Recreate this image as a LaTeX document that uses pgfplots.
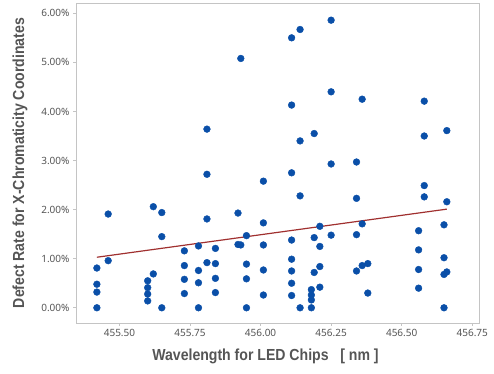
\documentclass[border=0pt]{standalone}
\usepackage{pgfplots}
\pgfplotsset{compat=1.18}
\usepackage{fontspec}
\setmainfont{Noto Sans}
\newfontfamily\labfont[FakeStretch=0.88]{Liberation Sans}
\definecolor{dotblue}{HTML}{0A4FA8}
\definecolor{trendred}{HTML}{A0302F}
\definecolor{framegray}{HTML}{C4C4C4}
\definecolor{txtgray}{HTML}{555555}
\begin{document}
\begin{tikzpicture}
\begin{axis}[
  scale only axis,
  width=403bp, height=320bp,
  xmin=455.346, xmax=456.774,
  ymin=-0.31, ymax=6.21,
  xtick={455.5,455.75,456,456.25,456.5,456.75},
  ytick={0,1,2,3,4,5,6},
  xticklabel style={/pgf/number format/fixed,/pgf/number format/fixed zerofill,/pgf/number format/precision=2,/pgf/number format/1000 sep={}},
  yticklabel={\pgfmathprintnumber[fixed,fixed zerofill,precision=2]{\tick}\%},
  /pgf/number format/assume math mode=true,
  tick label style={font=\fontsize{10bp}{12bp}\selectfont, text=txtgray},
  axis line style={framegray},
  tick style={framegray, line width=0.6pt},
  tick align=outside,
  major tick length=3bp,
  xtick pos=bottom, ytick pos=left,
  xlabel={\labfont\bfseries Wavelength for LED Chips\ \ \ [ nm ]},
  ylabel={\labfont\bfseries Defect Rate for X-Chromaticity Coordinates},
  label style={font=\fontsize{16bp}{18bp}\selectfont, text=txtgray},
  xlabel style={at={(0.5,0)}, anchor=center, yshift=-33bp, xshift=-12bp},
  ylabel style={at={(0,0.5)}, anchor=center, rotate=0, xshift=0bp},
  every axis y label/.append style={at={(rel axis cs:0,0.5)}, yshift=56bp},
  clip=false,
]
\addplot[only marks, mark=*, mark size=3.4bp, mark options={draw=dotblue, fill=dotblue}] coordinates {
(455.42,0.81) (455.42,0.48) (455.42,0.32) (455.42,0.00)
(455.46,1.91) (455.46,0.96)
(455.60,0.55) (455.60,0.41) (455.60,0.28) (455.60,0.14)
(455.62,2.06) (455.62,0.69)
(455.65,1.94) (455.65,1.45) (455.65,0.00)
(455.73,1.16) (455.73,0.86) (455.73,0.58) (455.73,0.29)
(455.78,1.26) (455.78,0.76) (455.78,0.51) (455.78,0.00)
(455.81,3.64) (455.81,2.72) (455.81,1.81) (455.81,0.92)
(455.84,1.21) (455.84,0.90) (455.84,0.60) (455.84,0.31)
(455.92,1.93) (455.92,1.29) (455.93,1.28) (455.93,5.08)
(455.95,1.47) (455.95,0.89) (455.95,0.59) (455.95,0.00)
(456.01,2.58) (456.01,1.73) (456.01,1.28) (456.01,0.77) (456.01,0.26)
(456.11,5.50) (456.11,4.13) (456.11,2.75) (456.11,1.38) (456.11,0.99) (456.11,0.75) (456.11,0.50) (456.11,0.25)
(456.14,5.67) (456.14,3.40) (456.14,2.28) (456.14,0.00)
(456.18,0.37) (456.18,0.26) (456.18,0.16) (456.18,0.00)
(456.19,3.55) (456.19,1.43) (456.19,0.72)
(456.21,1.66) (456.21,1.25) (456.21,0.84) (456.21,0.42)
(456.25,5.86) (456.25,4.40) (456.25,2.93) (456.25,1.48)
(456.34,2.97) (456.34,2.23) (456.34,1.49) (456.34,0.75)
(456.36,4.25) (456.36,1.71) (456.36,0.86)
(456.38,0.90) (456.38,0.30)
(456.56,1.57) (456.56,1.18) (456.56,0.78) (456.56,0.40)
(456.58,4.21) (456.58,3.50) (456.58,2.49) (456.58,2.26)
(456.65,1.69) (456.65,1.02) (456.65,0.68) (456.65,0.00)
(456.66,3.61) (456.66,2.16) (456.66,0.73)
};
\addplot[trendred, line width=1.2pt] coordinates {(455.42,1.03) (456.66,2.01)};
\end{axis}
\pgfresetboundingbox
\path[use as bounding box] (current axis.south west) ++(-76bp,-51bp) rectangle ++(494bp,374bp);
\end{tikzpicture}
\end{document}
